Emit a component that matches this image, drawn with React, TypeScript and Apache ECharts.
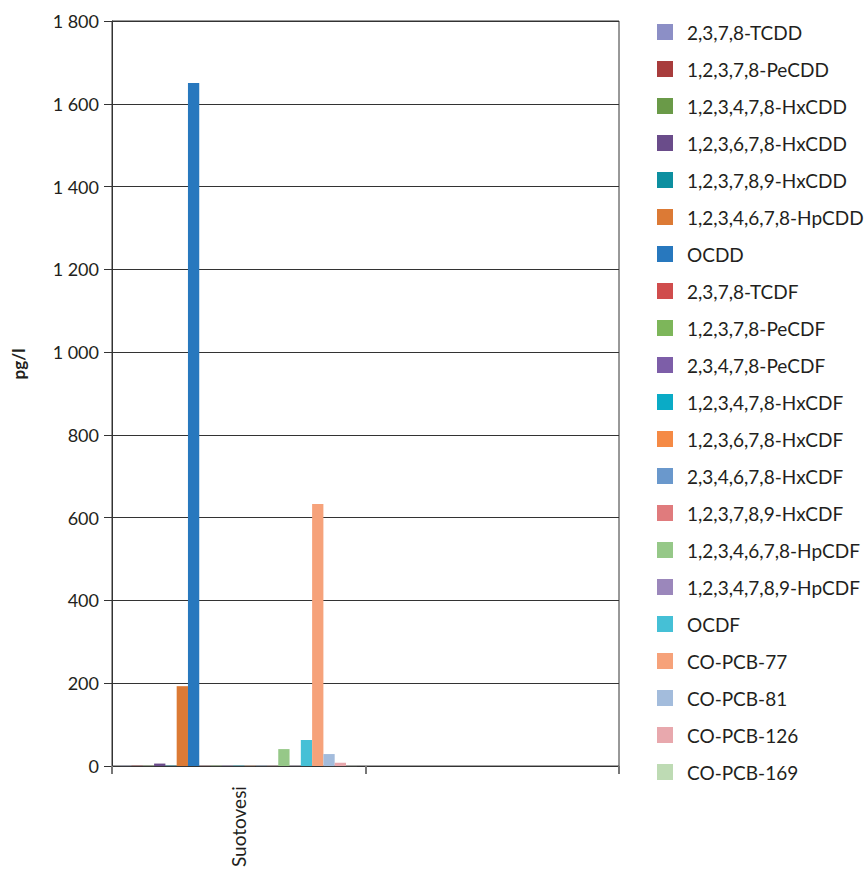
import React, { useEffect, useRef } from "react";
import * as echarts from "echarts";

const categories = ["Suotovesi", ""];

const seriesNames = [
  "2,3,7,8-TCDD",
  "1,2,3,7,8-PeCDD",
  "1,2,3,4,7,8-HxCDD",
  "1,2,3,6,7,8-HxCDD",
  "1,2,3,7,8,9-HxCDD",
  "1,2,3,4,6,7,8-HpCDD",
  "OCDD",
  "2,3,7,8-TCDF",
  "1,2,3,7,8-PeCDF",
  "2,3,4,7,8-PeCDF",
  "1,2,3,4,7,8-HxCDF",
  "1,2,3,6,7,8-HxCDF",
  "2,3,4,6,7,8-HxCDF",
  "1,2,3,7,8,9-HxCDF",
  "1,2,3,4,6,7,8-HpCDF",
  "1,2,3,4,7,8,9-HpCDF",
  "OCDF",
  "CO-PCB-77",
  "CO-PCB-81",
  "CO-PCB-126",
  "CO-PCB-169",
];

// values for "Suotovesi" (pg/l)
const suotovesiValues = [
  0.5, 0.8, 0.6, 6, 0.9, 193, 1650, 0.4, 0.7, 0.6, 0.8, 0.5, 0.6, 0.4, 41, 0.5, 63, 633, 29, 8, 0.3,
];

const seriesColors = [
  "#8c8fc6",
  "#a83c3c",
  "#6a9a48",
  "#6a4c8a",
  "#0d8fa0",
  "#dc7a35",
  "#2878be",
  "#d04d4d",
  "#7db65a",
  "#7d5ea8",
  "#0aabc6",
  "#f58a45",
  "#6a98cc",
  "#e07b7d",
  "#96c888",
  "#9b87bb",
  "#45c0d6",
  "#f6a27a",
  "#a3bcdc",
  "#e8a8ad",
  "#bedbb4",
];

const yTicks = { min: 0, max: 1800, interval: 200 };
const yAxisTitle = "pg/l";

const FONT = "Lato, 'Open Sans', sans-serif";
const TEXT = "#231f20";

export default function App() {
  const ref = useRef<HTMLDivElement>(null);

  useEffect(() => {
    if (!ref.current) return;
    const chart = echarts.init(ref.current, undefined, { renderer: "svg" });
    const series = seriesNames.map((name, i) => ({
      name,
      type: "bar",
      data: [suotovesiValues[i], null],
      itemStyle: { color: seriesColors[i] },
      barGap: "0%",
      barCategoryGap: "6.5%",
    }));
    chart.setOption({
      animation: false,
      textStyle: { fontFamily: FONT },
      grid: {
        left: 112,
        right: 249,
        top: 21,
        bottom: 101,
        show: true,
        borderColor: "#333",
        borderWidth: 1,
        backgroundColor: "transparent",
      },
      legend: {
        orient: "vertical",
        left: 652,
        top: 16,
        itemWidth: 16,
        itemHeight: 16,
        itemGap: 15,
        icon: "rect",
        selectedMode: false,
        data: seriesNames,
        textStyle: {
          fontFamily: FONT,
          fontSize: 19,
          lineHeight: 22,
          color: TEXT,
          padding: [0, 0, 0, 9],
        },
      },
      graphic: [
        {
          type: "text",
          x: 18,
          y: 364,
          rotation: Math.PI / 2,
          style: {
            text: yAxisTitle,
            fontFamily: FONT,
            fontSize: 17,
            fontWeight: "bold",
            fill: TEXT,
            align: "center",
            verticalAlign: "middle",
          },
        },
      ],
      xAxis: {
        type: "category",
        data: categories,
        axisLine: { show: true, lineStyle: { color: "#333", width: 1 } },
        axisTick: { show: true, length: 8, lineStyle: { color: "#777", width: 2 } },
        axisLabel: {
          rotate: 90,
          fontFamily: FONT,
          fontSize: 19,
          color: TEXT,
          margin: 20,
        },
        splitLine: { show: false },
      },
      yAxis: {
        type: "value",
        min: yTicks.min,
        max: yTicks.max,
        interval: yTicks.interval,
        axisLine: { show: true, lineStyle: { color: "#333", width: 1 } },
        axisTick: { show: true, length: 8, lineStyle: { color: "#333" } },
        axisLabel: {
          fontFamily: FONT,
          fontSize: 18,
          color: TEXT,
          margin: 13,
          formatter: (v: number) => String(v).replace(/\B(?=(\d{3})+(?!\d))/g, " "),
        },
        splitLine: { show: true, lineStyle: { color: "#333", width: 1 } },
      },
      series,
    });
    return () => chart.dispose();
  }, []);

  return (
    <div
      ref={ref}
      style={{ position: "fixed", left: 0, top: 0, width: 868, height: 870, background: "#fff" }}
    />
  );
}
